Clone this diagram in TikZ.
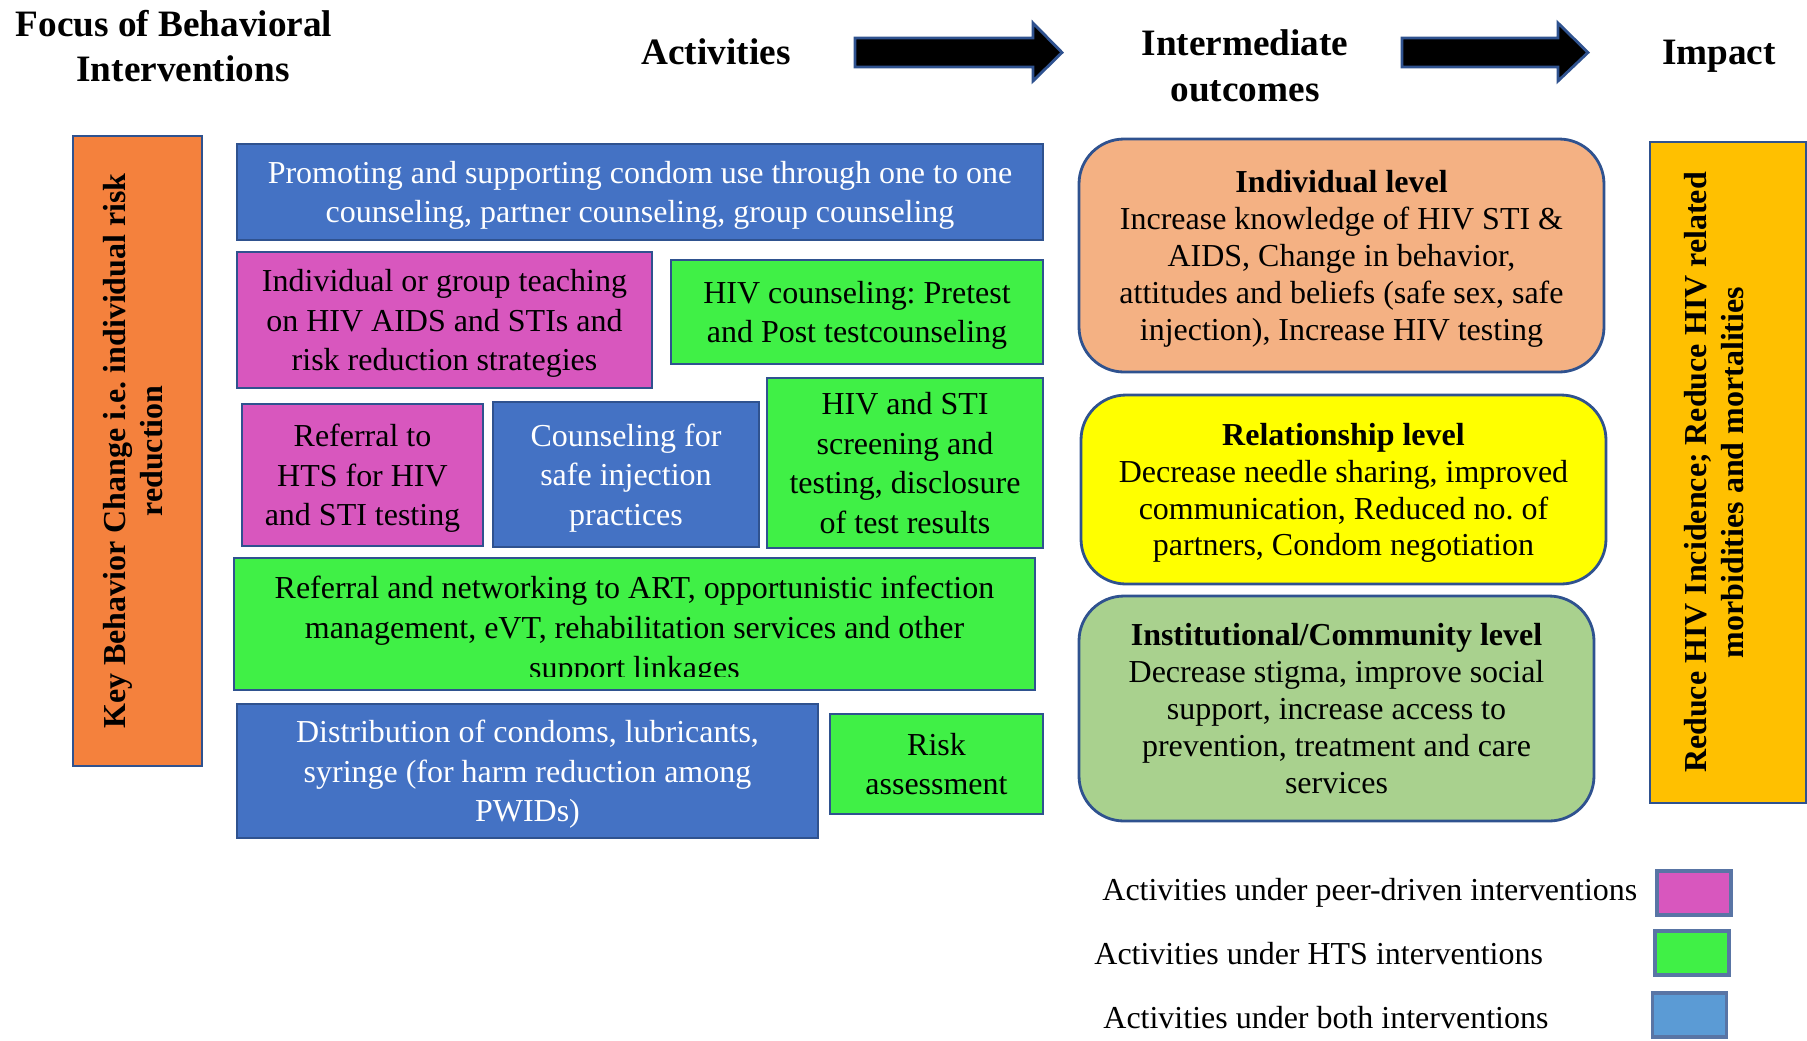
\documentclass[tikz,border=0pt]{standalone}
\usepackage{fontspec}
\setmainfont{Liberation Serif}
\usepackage{xcolor}
\definecolor{edgeblue}{RGB}{47,82,143}
\definecolor{kbcorange}{RGB}{244,129,61}
\definecolor{bothblue}{RGB}{68,114,196}
\definecolor{legblue}{RGB}{91,155,213}
\definecolor{peerpink}{RGB}{216,87,190}
\definecolor{htsgreen}{RGB}{64,240,70}
\definecolor{indivpeach}{RGB}{244,177,131}
\definecolor{relyellow}{RGB}{255,255,0}
\definecolor{instgreen}{RGB}{169,209,142}
\definecolor{impactgold}{RGB}{255,192,0}
\usepackage{tikz}
\frenchspacing
\newcommand{\actfont}{\fontsize{9.1}{11.3}\selectfont}
\newcommand{\outfont}{\fontsize{9.1}{10.5}\selectfont}
\newcommand{\headfont}{\fontsize{10.6}{13}\selectfont\bfseries}
\newcommand{\sidefont}{\fontsize{9.1}{10.4}\selectfont\bfseries}
% block arrow: shaft start, head start, tip
\newcommand{\blockarrow}[3]{
    \draw[arrowshape] (#1,38) -- (#2,38) -- (#2,23) -- (#3,52.5)
        -- (#2,81) -- (#2,67) -- (#1,67) -- cycle;
}
\tikzset{
    box/.style={draw=edgeblue, line width=0.8pt, inner sep=0pt, align=center},
    actbox/.style={box, font=\actfont, text depth=-1.2pt},
    bothbox/.style={actbox, fill=bothblue, text=white},
    peerbox/.style={actbox, fill=peerpink},
    htsbox/.style={actbox, fill=htsgreen},
    outbox/.style={box, rounded corners=4.5mm, font=\outfont, text depth=0pt},
    sidebox/.style={box, rotate=90, font=\sidefont},
    header/.style={font=\headfont, align=center},
    arrowshape/.style={draw=edgeblue, line width=0.8pt, fill=black},
    legtext/.style={anchor=west, font=\actfont},
    legbox/.style={draw=edgeblue!80, line width=1pt, minimum width=7.4mm, minimum height=4.4mm}
}
\begin{document}
\begin{tikzpicture}[x=0.1mm, y=-0.1mm]
    \useasboundingbox (0,0) rectangle (1807,1040);

    % headers
    \node[header] (focus) at (174,46) {Focus of Behavioral\\\hspace*{1.8mm}Interventions};
    \node[header] (activities) at (716,52) {Activities};
    \node[header] (intermediate) at (1245,66) {Intermediate\\outcomes};
    \node[header] (impacthead) at (1719,56) {Impact};
    \blockarrow{855}{1033}{1062}
    \blockarrow{1402}{1558}{1588}

    % focus
    \node[sidebox, fill=kbcorange, minimum width=63mm, minimum height=12.9mm, text depth=2.6pt] (kbc) at (137.5,451)
        {Key Behavior Change i.e. individual risk\\reduction};

    % activities
    \node[bothbox, minimum width=80.6mm, minimum height=9.6mm] (promote) at (640,192)
        {Promoting and supporting condom use through one to one\\counseling, partner counseling, group counseling};
    \node[peerbox, minimum width=41.5mm, minimum height=13.6mm] (teach) at (444.5,320)
        {Individual or group teaching\\on HIV AIDS and STIs and\\risk reduction strategies};
    \node[htsbox, minimum width=37.2mm, minimum height=10.4mm] (hivcouns) at (857,312)
        {HIV counseling: Pretest\\and Post testcounseling};
    \node[peerbox, minimum width=24.1mm, minimum height=14.2mm] (referhts) at (362.5,475)
        {Referral to\\HTS for HIV\\and STI testing};
    \node[bothbox, minimum width=26.6mm, minimum height=14.5mm] (safeinj) at (626,474.5)
        {Counseling for\\safe injection\\practices};
    \node[htsbox, minimum width=27.6mm, minimum height=17mm, text depth=-2.6pt] (screen) at (905,463)
        {HIV and STI\\screening and\\testing, disclosure\\of test results};
    \node[htsbox, minimum width=80.1mm, minimum height=13.2mm] (network) at (634.5,624) {};
    \begin{scope}
        \clip (234,558) rectangle (1035,676);
        \node[font=\actfont, align=center, anchor=north] (networktext) at (634.5,564)
            {Referral and networking to ART, opportunistic infection\\management, eVT, rehabilitation services and other\\support linkages};
    \end{scope}
    \node[bothbox, minimum width=58.1mm, minimum height=13.4mm] (distrib) at (527.5,771)
        {Distribution of condoms, lubricants,\\syringe (for harm reduction among\\PWIDs)};
    \node[htsbox, minimum width=21.3mm, minimum height=10mm] (risk) at (936.5,764)
        {Risk\\assessment};

    % intermediate outcomes
    \node[outbox, fill=indivpeach, minimum width=52.5mm, minimum height=23.3mm] (indiv) at (1341.5,255.5)
        {\textbf{Individual level}\\Increase knowledge of HIV STI \&\\AIDS, Change in behavior,\\attitudes and beliefs (safe sex, safe\\injection), Increase HIV testing};
    \node[outbox, fill=relyellow, minimum width=52.5mm, minimum height=18.9mm] (relat) at (1343.5,489.5)
        {\textbf{Relationship level}\\Decrease needle sharing, improved\\communication, Reduced no. of\\partners, Condom negotiation};
    \node[outbox, fill=instgreen, minimum width=51.5mm, minimum height=22.5mm] (instit) at (1336.5,708.5)
        {\textbf{Institutional/Community level}\\Decrease stigma, improve social\\support, increase access to\\prevention, treatment and care\\services};

    % impact
    \node[sidebox, fill=impactgold, minimum width=66.1mm, minimum height=15.6mm, text depth=8pt] (impact) at (1728,472.5)
        {Reduce HIV Incidence; Reduce HIV related\\morbidities and mortalities};

    % legend
    \node[legtext] (legpeer) at (1090,893) {Activities under peer-driven interventions};
    \node[legtext] (leghts) at (1082,954) {Activities under HTS interventions};
    \node[legtext] (legboth) at (1091,1018) {Activities under both interventions};
    \node[legbox, fill=peerpink] (keypeer) at (1694,893) {};
    \node[legbox, fill=htsgreen] (keyhts) at (1692,953) {};
    \node[legbox, fill=legblue] (keyboth) at (1689.5,1015) {};
\end{tikzpicture}
\end{document}
